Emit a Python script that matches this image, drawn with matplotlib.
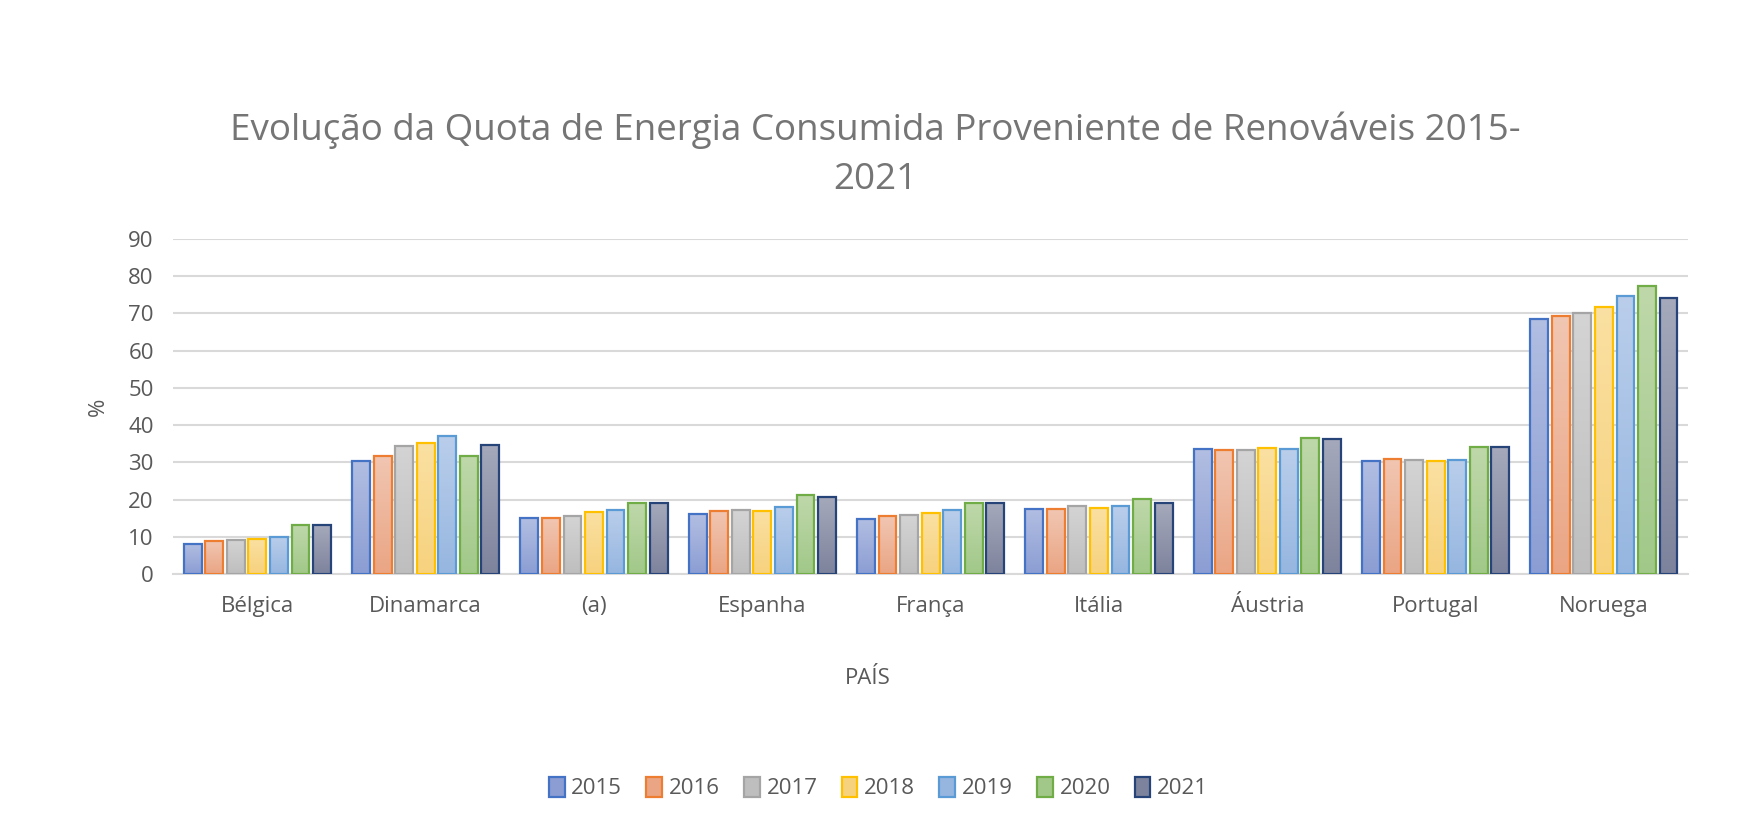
import numpy as np
import matplotlib.pyplot as plt
from matplotlib.colors import LinearSegmentedColormap
from matplotlib.patches import Patch

paises = ["Bélgica", "Dinamarca", "(a)", "Espanha", "França", "Itália",
          "Áustria", "Portugal", "Noruega"]
anos = ["2015", "2016", "2017", "2018", "2019", "2020", "2021"]

v2015 = [8.2, 30.5, 15.0, 16.1, 14.8, 17.6, 33.5, 30.5, 68.6]
v2016 = [8.8, 31.7, 15.0, 17.0, 15.5, 17.4, 33.4, 30.9, 69.3]
v2017 = [9.2, 34.5, 15.5, 17.1, 15.8, 18.2, 33.2, 30.7, 70.1]
v2018 = [9.5, 35.1, 16.7, 17.0, 16.3, 17.8, 33.8, 30.3, 71.7]
v2019 = [10.0, 37.1, 17.2, 17.9, 17.1, 18.2, 33.7, 30.7, 74.7]
v2020 = [13.1, 31.7, 19.0, 21.2, 19.0, 20.3, 36.5, 34.1, 77.4]
v2021 = [13.1, 34.8, 19.1, 20.8, 19.2, 19.0, 36.4, 34.1, 74.2]
series = [v2015, v2016, v2017, v2018, v2019, v2020, v2021]

edge = ["#4472C4", "#ED7D31", "#A5A5A5", "#FFC000", "#5B9BD5", "#70AD47", "#264478"]
top = ["#B2BEE2", "#F1C6B2", "#D4D4D4", "#FAE0A2", "#BACEEB", "#BFD8AA", "#A5A9BB"]
bot = ["#8B9DD3", "#EAA584", "#BEBEBE", "#F7D27E", "#96B6E0", "#A1C889", "#7E839D"]

txt = "#595959"
plt.rcParams['font.family'] = ['Open Sans', 'DejaVu Sans']

fig = plt.figure(figsize=(17.5, 8.32), dpi=100)
ax = fig.add_axes([0.099, 0.31, 0.8656, 0.4027])

x = np.arange(len(paises))
slot = 0.128
w = 0.106
grad = np.linspace(0, 1, 128).reshape(-1, 1)

for i, vals in enumerate(series):
    pos = x + (i - 3) * slot
    bars = ax.bar(pos, vals, w, facecolor='none', edgecolor=edge[i], lw=1.6, zorder=3)
    cmap = LinearSegmentedColormap.from_list(f"g{i}", [bot[i], top[i]])
    for b in bars:
        ax.imshow(grad, extent=[b.get_x(), b.get_x() + b.get_width(), 0, b.get_height()],
                  origin='lower', aspect='auto', cmap=cmap, zorder=2)

ax.set_xlim(-0.5, len(paises) - 0.5)
ax.set_ylim(0, 90)
ax.set_yticks(range(0, 91, 10))
ax.set_xticks(x)
ax.set_xticklabels(paises)
ax.yaxis.grid(True, color="#D9D9D9", lw=1.5, zorder=0)
ax.set_axisbelow(True)
for s in ["top", "right", "left"]:
    ax.spines[s].set_visible(False)
ax.spines["bottom"].set_color("#D9D9D9")
ax.spines["bottom"].set_linewidth(1.5)
ax.tick_params(length=0, labelsize=16, labelcolor=txt)
ax.tick_params(axis='x', pad=16)
ax.tick_params(axis='y', pad=14)

ax.set_ylabel("%", fontsize=16, color=txt, labelpad=14)
fig.text(0.496, 0.184, "PAÍS", fontsize=16, color=txt, ha='center', va='center')

fig.suptitle("Evolução da Quota de Energia Consumida Proveniente de Renováveis 2015-\n2021",
             fontsize=26.5, color="#757575", y=0.866, linespacing=1.5)

handles = [Patch(facecolor=bot[i], edgecolor=edge[i], lw=1.6) for i in range(len(anos))]
fig.legend(handles, anos, loc='center', bbox_to_anchor=(0.502, 0.053), ncol=7,
           frameon=False, fontsize=16, labelcolor=txt, handlelength=0.7,
           handleheight=1.0, handletextpad=0.3, columnspacing=1.1)

plt.savefig("out.png")
